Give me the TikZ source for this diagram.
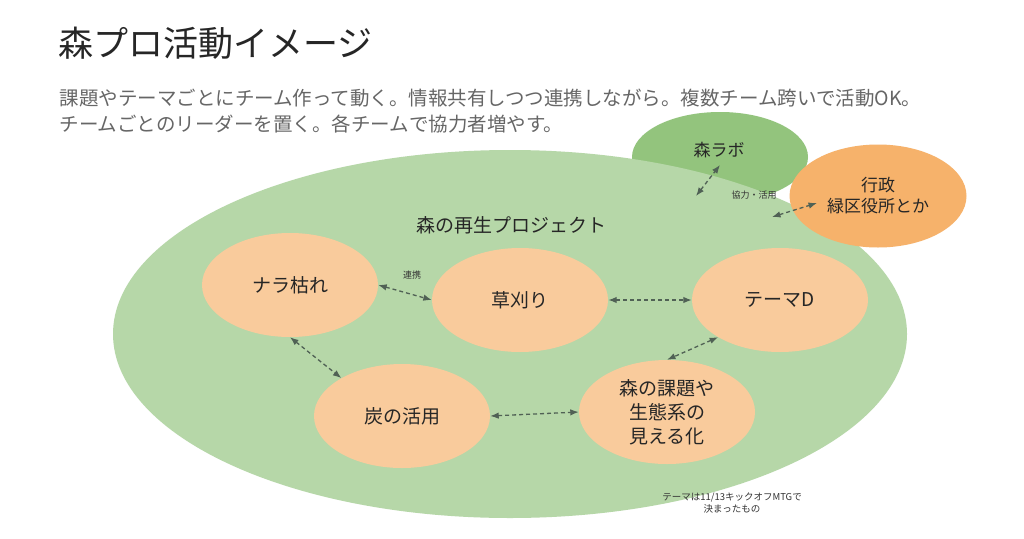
\documentclass[tikz,border=0pt]{standalone}
\usepackage{fontspec}
\setmainfont{Noto Sans CJK JP}
\usetikzlibrary{arrows.meta,shapes.geometric}
\definecolor{projgreen}{HTML}{B6D7A8}
\definecolor{labgreen}{HTML}{93C47D}
\definecolor{govorange}{HTML}{F6B26B}
\definecolor{teampeach}{HTML}{F9CB9C}
\definecolor{linkgray}{HTML}{506155}
\definecolor{subgray}{HTML}{666666}
\tikzset{
  team/.style={ellipse,fill=teampeach,minimum width=176pt,minimum height=104pt,
    inner sep=0pt,align=center,font=\fontsize{19}{24}\selectfont,text=black!85},
  link/.style={{Latex[length=8.5pt,width=6.5pt]}-{Latex[length=8.5pt,width=6.5pt]},
    draw=linkgray,dash pattern=on 4pt off 3pt,line width=1.3pt},
  tiny/.style={font=\fontsize{9}{12}\selectfont,text=black!80,align=center}
}
\begin{document}
\begin{tikzpicture}[x=1pt,y=-1pt]
\useasboundingbox[fill=white](0,0) rectangle (1024,538);
% heading
\node[anchor=west,font=\fontsize{35}{40}\selectfont,text=black!85] (title) at (55,43) {森プロ活動イメージ};
\node[anchor=west,font=\fontsize{19.5}{24}\selectfont,text=subgray] (line1) at (56,98)
  {課題やテーマごとにチーム作って動く。情報共有しつつ連携しながら。複数チーム跨いで活動OK。};
\node[anchor=west,font=\fontsize{19.5}{24}\selectfont,text=subgray] (line2) at (56,124)
  {チームごとのリーダーを置く。各チームで協力者増やす。};
% outside partners
\node[ellipse,fill=labgreen,minimum width=176pt,minimum height=90pt] (lab) at (720,157) {};
\fill[projgreen] (510,334) ellipse [x radius=397pt,y radius=184pt];
\node[ellipse,fill=govorange,minimum width=177pt,minimum height=103pt,align=center,
  font=\fontsize{17}{21}\selectfont,text=black!85] (gov) at (878,196) {行政\\緑区役所とか};
\node[font=\fontsize{17}{21}\selectfont,text=black!85] (labname) at (719,150) {森ラボ};
\node[font=\fontsize{19}{24}\selectfont,text=black!85] (projname) at (511,225) {森の再生プロジェクト};
% teams
\node[team] (nara) at (290,285) {ナラ枯れ};
\node[team] (kusa) at (520,300) {草刈り};
\node[team] (themed) at (780,300) {テーマD};
\node[team] (sumi) at (402,416) {炭の活用};
\node[team] (mieru) at (667,412) {森の課題や\\生態系の\\見える化};
% links
\coordinate (labin) at (720,165);
\coordinate (labout) at (696,196);
\coordinate (govin) at (817,203);
\coordinate (govout) at (772,217);
\draw[link] (labout)--(labin);
\draw[link] (govout)--(govin);
\draw[link] (nara.east)--(kusa.west);
\draw[link] (kusa.east)--(themed.west);
\draw[link] (themed.211)--(mieru.north);
\draw[link] (nara.south)--(sumi.148);
\draw[link] (sumi.east)--(mieru.west);
\node[tiny] (coop) at (754,195) {協力・活用};
\node[tiny] (renkei) at (412,275) {連携};
\node[tiny,font=\fontsize{9.5}{11.5}\selectfont] (note) at (732,503) {テーマは11/13キックオフMTGで\\決まったもの};
\end{tikzpicture}
\end{document}
